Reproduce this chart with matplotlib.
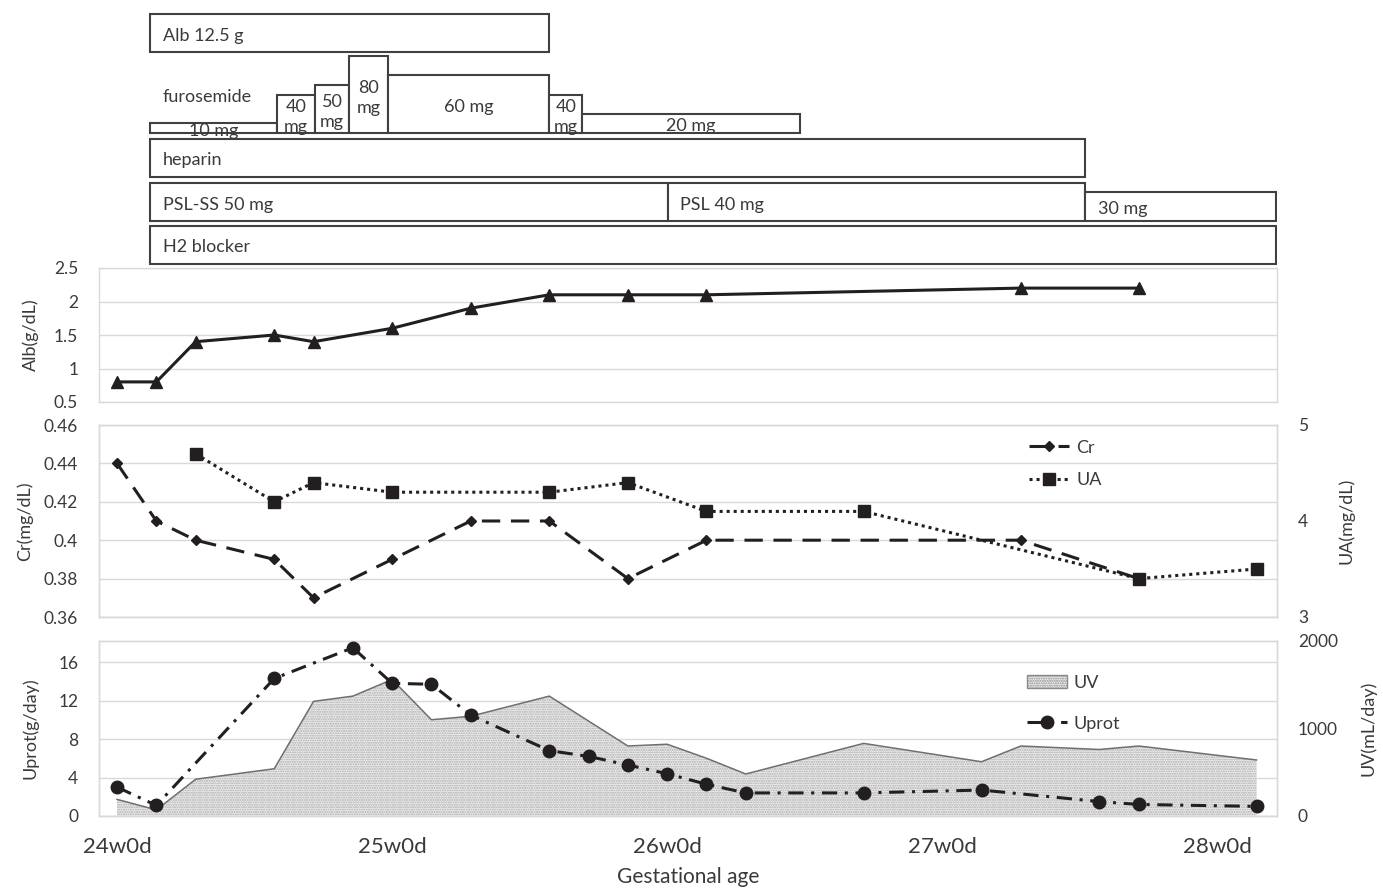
import matplotlib.pyplot as plt
from matplotlib.patches import Rectangle, Patch
from matplotlib.lines import Line2D

plt.rcParams['font.family'] = ['Lato', 'DejaVu Sans']
INK = '#231f20'
TXT = '#3a3a3a'
GRID = '#d9d9d9'

# ---- data (day 0 = 24w0d) ----
alb_day = [0, 1, 2, 4, 5, 7, 9, 11, 13, 15, 23, 26]
alb = [0.8, 0.8, 1.4, 1.5, 1.4, 1.6, 1.9, 2.1, 2.1, 2.1, 2.2, 2.2]

cr_day = [0, 1, 2, 4, 5, 7, 9, 11, 13, 15, 23, 26]
cr = [0.44, 0.41, 0.40, 0.39, 0.37, 0.39, 0.41, 0.41, 0.38, 0.40, 0.40, 0.38]

ua_day = [2, 4, 5, 7, 11, 13, 15, 19, 26, 29]
ua = [4.7, 4.2, 4.4, 4.3, 4.3, 4.4, 4.1, 4.1, 3.4, 3.5]

uprot_day = [0, 1, 4, 6, 7, 8, 9, 11, 12, 13, 14, 15, 16, 19, 22, 25, 26, 29]
uprot = [3.0, 1.1, 14.3, 17.5, 13.8, 13.7, 10.5, 6.8, 6.2, 5.3, 4.4, 3.3,
         2.4, 2.4, 2.7, 1.5, 1.2, 1.0]

uv_day = [0, 1, 2, 4, 5, 6, 7, 8, 9, 11, 13, 14, 15, 16, 19, 22, 23, 25, 26, 29]
uv = [190, 70, 420, 540, 1310, 1370, 1560, 1100, 1140, 1370, 800, 820, 660,
      480, 830, 620, 800, 760, 800, 640]

week_ticks = [0, 7, 14, 21, 28]
week_labels = ['24w0d', '25w0d', '26w0d', '27w0d', '28w0d']

# treatments: (label, start day, end day)
alb_tx = [('Alb 12.5 g', 0.84, 11.0)]
furo_start = [0.84, 4.07, 5.04, 5.9, 6.9, 11.0, 11.84]
furo_end = [4.07, 5.04, 5.9, 6.9, 11.0, 11.84, 17.38]
furo_dose = [10, 40, 50, 80, 60, 40, 20]
furo_label = ['10 mg', '40\nmg', '50\nmg', '80\nmg', '60 mg', '40\nmg', '20 mg']
heparin_tx = [('heparin', 0.84, 24.64)]
psl_tx = [('PSL-SS 50 mg', 0.84, 14.02), ('PSL 40 mg', 14.02, 24.64), ('30 mg', 24.64, 29.5)]
h2_tx = [('H2 blocker', 0.84, 29.5)]

XMIN, XMAX = -0.46, 29.52
W_PX, H_PX = 1383, 889
L, R = 99, 1277


def axes_px(top, bottom):
    return [L / W_PX, 1 - bottom / H_PX, (R - L) / W_PX, (bottom - top) / H_PX]


def style(ax, right=False):
    for s in ax.spines.values():
        s.set_color(GRID)
        s.set_linewidth(1)
    ax.tick_params(axis='both', length=0, labelsize=12.5, colors=TXT, pad=15)
    ax.set_xlim(XMIN, XMAX)


fig = plt.figure(figsize=(13.83, 8.89), dpi=100)

# ---- treatment boxes ----
axt = fig.add_axes(axes_px(0, 268))
axt.set_xlim(XMIN, XMAX)
axt.set_ylim(268, 0)
axt.axis('off')
tstyle = dict(fontsize=13, color=TXT, va='center')


def tbox(x0, x1, y0, y1, z=2):
    axt.add_patch(Rectangle((x0, y0), x1 - x0, y1 - y0, facecolor='white',
                            edgecolor='#404040', lw=1.5, zorder=z))


def tlabel(txt, x, y):
    axt.annotate(txt, (x, y), xytext=(9, 0), textcoords='offset points',
                 ha='left', zorder=10, **tstyle)


for lab, a, b in alb_tx:
    tbox(a, b, 14, 52)
    tlabel(lab, a, 36)

for i, (a, b, d, lab) in enumerate(zip(furo_start, furo_end, furo_dose, furo_label)):
    h = d * 0.96
    tbox(a, b, 133 - h, 133, z=2 + i)
    axt.text((a + b) / 2, 133 - h / 2 + 3, lab, ha='center', linespacing=1.3,
             zorder=20, **tstyle)
tlabel('furosemide', furo_start[0], 97)

for lab, a, b in heparin_tx:
    tbox(a, b, 139, 177)
    tlabel(lab, a, 160)

for lab, a, b in psl_tx:
    top = 192 if lab == '30 mg' else 183
    tbox(a, b, top, 221)
    tlabel(lab, a, 205 if top == 183 else 209)

for lab, a, b in h2_tx:
    tbox(a, b, 226, 264)
    tlabel(lab, a, 247)

# ---- Alb panel ----
ax1 = fig.add_axes(axes_px(268, 402))
style(ax1)
ax1.set_ylim(0.5, 2.5)
ax1.set_yticks([0.5, 1, 1.5, 2, 2.5])
ax1.set_yticklabels(['0.5', '1', '1.5', '2', '2.5'])
ax1.set_xticks([])
ax1.grid(axis='y', color=GRID, lw=1)
ax1.set_axisbelow(True)
ax1.plot(alb_day, alb, color=INK, lw=2.2, marker='^', ms=9)
ax1.set_ylabel('Alb(g/dL)', fontsize=13, color=TXT)
ax1.yaxis.set_label_coords(-0.051, 0.5)

# ---- Cr / UA panel ----
ax2 = fig.add_axes(axes_px(425, 617))
style(ax2)
ax2.set_ylim(0.36, 0.46)
ax2.set_yticks([0.36, 0.38, 0.40, 0.42, 0.44, 0.46])
ax2.set_yticklabels(['0.36', '0.38', '0.4', '0.42', '0.44', '0.46'])
ax2.set_xticks([])
ax2.grid(axis='y', color=GRID, lw=1)
ax2.set_axisbelow(True)
ax2.plot(cr_day, cr, color=INK, lw=2.2, ls=(0, (6, 3.5)), marker='D', ms=5.5)
ax2.set_ylabel('Cr(mg/dL)', fontsize=13, color=TXT)
ax2.yaxis.set_label_coords(-0.056, 0.5)

ax2b = ax2.twinx()
style(ax2b)
ax2b.set_ylim(3, 5)
ax2b.set_yticks([3, 4, 5])
ax2b.plot(ua_day, ua, color=INK, lw=2.2, ls=(0, (1, 1.3)), marker='s', ms=8)
ax2b.set_ylabel('UA(mg/dL)', fontsize=13, color=TXT)
ax2b.yaxis.set_label_coords(1.052, 0.5)

h_cr = Line2D([], [], color=INK, lw=2.2, ls=(0, (6, 3.5)), marker='D', ms=5.5)
h_ua = Line2D([], [], color=INK, lw=2.2, ls=(0, (1, 1.3)), marker='s', ms=8)
ax2b.legend([h_cr, h_ua], ['Cr', 'UA'], loc='upper left',
            bbox_to_anchor=(0.782, 0.97), frameon=False, fontsize=13,
            handlelength=2.2, handletextpad=0.4, labelspacing=0.9,
            borderpad=0, labelcolor=TXT)

# ---- Uprot / UV panel ----
ax3 = fig.add_axes(axes_px(641, 816))
style(ax3)
ax3.set_ylim(0, 18.2)
ax3.set_yticks([0, 4, 8, 12, 16])
ax3.grid(axis='y', color=GRID, lw=1)
ax3.set_axisbelow(True)
ax3.set_xticks(week_ticks)
ax3.set_xticklabels(week_labels, fontsize=16)
ax3.set_ylabel('Uprot(g/day)', fontsize=13, color=TXT)
ax3.yaxis.set_label_coords(-0.051, 0.5)
ax3.set_xlabel('Gestational age', fontsize=15, color=TXT)
ax3.xaxis.set_label_coords(0.5, -0.29)

ax3b = ax3.twinx()
style(ax3b)
ax3b.set_ylim(0, 2000)
ax3b.set_yticks([0, 1000, 2000])
ax3b.fill_between(uv_day, 0, uv, facecolor='#f2f2f2', edgecolor='#a8a8a8',
                  hatch='.......', linewidth=0)
ax3b.plot(uv_day, uv, color='#6f6f6f', lw=1.1)
ax3b.set_ylabel('UV(mL/day)', fontsize=13, color=TXT)
ax3b.yaxis.set_label_coords(1.0705, 0.5)

ax3c = ax3.twinx()
ax3c.set_ylim(ax3.get_ylim())
ax3c.set_xlim(XMIN, XMAX)
ax3c.axis('off')
up_ls = (0, (5, 2.5, 1, 2.5))
ax3c.plot(uprot_day, uprot, color=INK, lw=2.2, ls=up_ls, marker='o', ms=9)

h_uv = Patch(facecolor='#f2f2f2', edgecolor='#8a8a8a', hatch='.......', lw=1)
h_up = Line2D([], [], color=INK, lw=2.2, ls=up_ls, marker='o', ms=9)
ax3c.legend([h_uv, h_up], ['UV', 'Uprot'], loc='upper left',
            bbox_to_anchor=(0.780, 0.86), frameon=False, fontsize=13,
            handlelength=2.2, handletextpad=0.4, labelspacing=1.4,
            borderpad=0, labelcolor=TXT)

fig.savefig('out.png', dpi=100)
